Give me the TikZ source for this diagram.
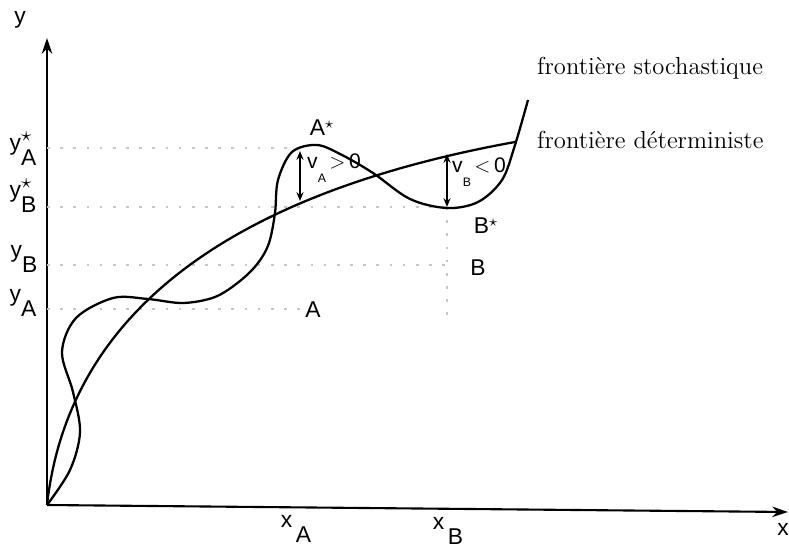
\documentclass[tikz,border=0pt]{standalone}
\usepackage{fontspec}
\setsansfont{Liberation Sans}
\usepackage{tikz}
\usetikzlibrary{arrows.meta, positioning}

% letter with a dropped index, and with a star above it
\newcommand{\dropsub}[2]{#1\raisebox{-1.25ex}{#2}}
\newcommand{\stardrop}[2]{#1\makebox[0pt][l]{\raisebox{0.75ex}{$\star$}}\raisebox{-1.25ex}{#2}}

\begin{document}
\begin{tikzpicture}[x=0.02cm, y=-0.02cm,
  every node/.style={font=\sffamily\fontsize{13}{15}\selectfont, inner sep=0.5pt},
  txt/.style={font=\rmfamily\fontsize{14}{16}\selectfont, anchor=west},
  frontier/.style={line width=1.3pt, line join=round},
  guide/.style={dash pattern=on 1.5pt off 6pt, gray!45, line width=1pt},
  gap/.style={{Stealth[length=5pt,width=4pt]}-{Stealth[length=5pt,width=4pt]}, line width=1pt}]
  \useasboundingbox (0,0) rectangle (789,548);
  % axes
  \coordinate (O) at (47,505);
  \coordinate (ytip) at (47,38);
  \coordinate (xtip) at (788,512);
  \draw[line width=1.2pt, -{Stealth[length=9pt,width=6pt]}] (O) -- (ytip);
  \draw[line width=1.2pt, -{Stealth[length=9pt,width=6pt]}] (O) -- (xtip);
  \node (ylab) at (20,20) {y};
  \node (xlab) at (783,529) {x};
  \node (xA) at (296,529) {\dropsub{x}{\,A}};
  \node (xB) at (448,531) {\dropsub{x}{\,B}};
  % levels on the y axis
  \node (yAs) at (23,149) {\stardrop{y}{A}};
  \node (yBs) at (23,196) {\stardrop{y}{B}};
  \node (yB) at (24,259) {\dropsub{y}{B}};
  \node (yA) at (23,303) {\dropsub{y}{A}};
  \coordinate (gAs) at (47,148);
  \coordinate (gBs) at (47,207);
  \coordinate (gB) at (47,265);
  \coordinate (gA) at (47,309);
  % points
  \coordinate (pAs) at (300,148);
  \coordinate (pBs) at (447,207);
  \coordinate (pB) at (447,265);
  \coordinate (pA) at (300,309);
  \coordinate (low) at (447,322);
  \node (As) at (322,128) {A$^{\star}$};
  \node (Bs) at (486,226) {B$^{\star}$};
  \node (B) at (478,268) {B};
  \node (A) at (313,310) {A};
  % dotted guides
  \draw[guide] (gAs) -- (pAs);
  \draw[guide] (gBs) -- (pBs);
  \draw[guide] (gB) -- (pB);
  \draw[guide] (gA) -- (pA);
  \draw[guide] (pBs) -- (low);
  % deterministic frontier
  \coordinate (dEnd) at (515,142);
  \draw[frontier] (O) .. controls (70,300) and (250,190) .. (dEnd);
  % stochastic frontier
  \draw[frontier] plot[smooth, tension=0.55] coordinates {
    (47,505) (70,470) (80,432) (73,392) (62,352) (76,318) (113,298)
    (148,299) (183,303) (215,297) (240,281) (258,263) (269,243)
    (275,213) (278,180) (292,152) (317,145) (342,155) (373,173)
    (410,199) (447,208) (478,202) (502,180) (515,145) (528,100)};
  % gaps
  \coordinate (vAt) at (300,151);
  \coordinate (vAb) at (300,201);
  \coordinate (vBt) at (447,154);
  \coordinate (vBb) at (447,207);
  \draw[gap] (vAt) -- (vAb);
  \draw[gap] (vBt) -- (vBb);
  \node[font=\sffamily\fontsize{12}{14}\selectfont] (vA) at (334,168) {\dropsub{v}{\scriptsize A}\,$>$\,0};
  \node[font=\sffamily\fontsize{12}{14}\selectfont] (vB) at (479,172) {\dropsub{v}{\scriptsize B}\,$<$\,0};
  % captions
  \node[txt] (fs) at (536,68) {frontière stochastique};
  \node[txt] (fd) at (536,140) {frontière déterministe};
\end{tikzpicture}
\end{document}
